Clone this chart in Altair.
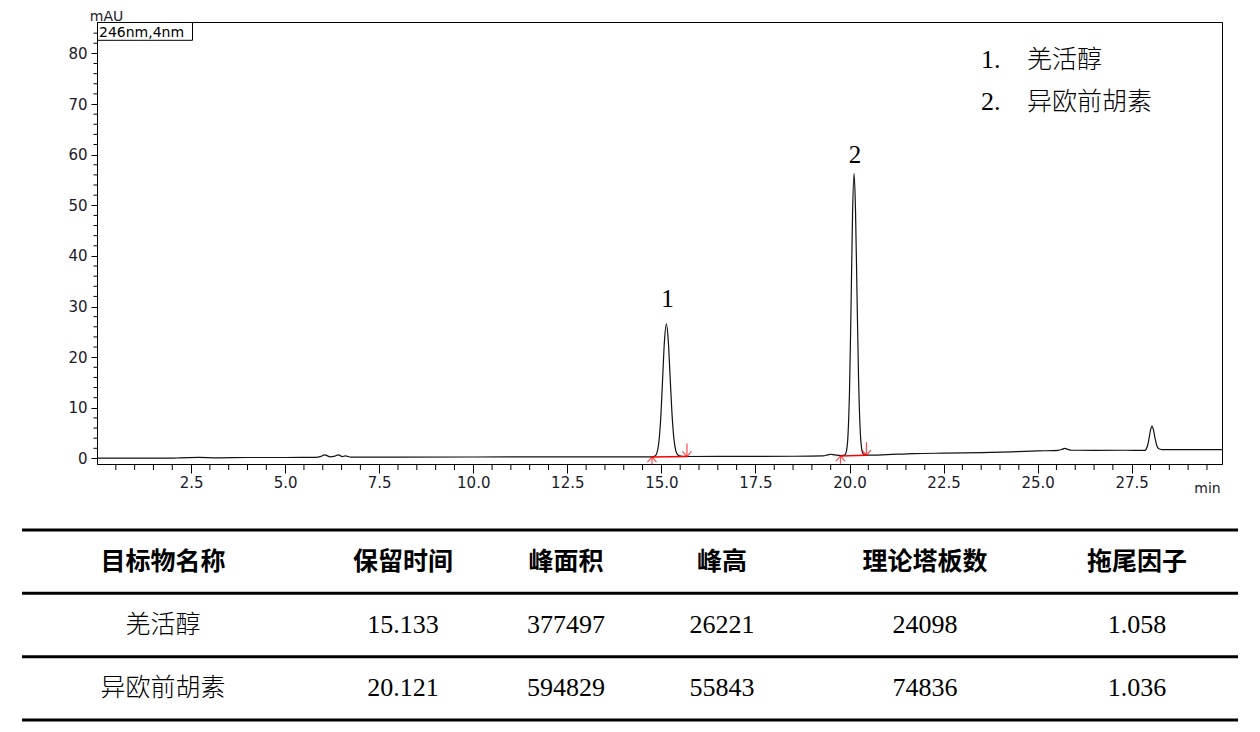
import pandas as pd
import altair as alt

# chromatogram trace (min, mAU)
TIME = [0.0, 1.0, 2.0, 2.2, 2.7, 3.2, 4.0, 5.0, 5.8, 5.95, 6.05, 6.2, 6.32, 6.42, 6.52, 6.6, 6.75,
        8.0, 10.0, 12.0, 13.5, 14.6, 14.75, 14.83, 14.88, 14.93, 14.98, 15.03, 15.08, 15.133,
        15.18, 15.23, 15.28, 15.33, 15.38, 15.43, 15.48, 15.55, 15.68, 17.0, 18.5, 19.3, 19.42,
        19.5, 19.6, 19.8, 19.88, 19.92, 19.96, 20.0, 20.04, 20.08, 20.121, 20.16, 20.2, 20.24,
        20.28, 20.32, 20.36, 20.42, 20.6, 21.0, 21.7, 22.5, 23.5, 24.3, 25.0, 25.55, 25.65,
        25.72, 25.8, 25.9, 26.5, 27.3, 27.85, 27.92, 27.96, 28.0, 28.04, 28.08, 28.12, 28.16,
        28.22, 28.3, 29.0, 29.9]
MAU = [0.05, 0.05, 0.05, 0.12, 0.2, 0.12, 0.18, 0.18, 0.22, 0.4, 0.7, 0.3, 0.45, 0.72, 0.35, 0.5, 0.25,
       0.25, 0.28, 0.3, 0.3, 0.3, 0.32, 0.46, 1.06, 3.0, 7.6, 15.2, 23.0, 26.6,
       23.6, 16.5, 9.1, 4.1, 1.6, 0.75, 0.5, 0.4, 0.38, 0.4, 0.43, 0.5, 0.7,
       0.83, 0.7, 0.56, 0.72, 1.5, 4.6, 13.3, 29.6, 47.9, 56.3, 48.9, 32.1, 16.0,
       6.2, 2.1, 0.9, 0.66, 0.65, 0.75, 0.95, 1.05, 1.15, 1.3, 1.48, 1.6, 1.8,
       2.0, 1.8, 1.62, 1.6, 1.62, 1.6, 2.5, 3.9, 5.6, 6.4, 5.6, 4.0, 2.7,
       1.9, 1.75, 1.75, 1.75]

# integrated peaks
PEAK_NO = ["1", "2"]
PEAK_RT = [15.133, 20.121]
PEAK_LABEL_Y = [31.5, 59.9]
INT_START = [14.75, 19.76]
INT_START_Y = [0.3, 0.5]
INT_END = [15.68, 20.45]
INT_END_Y = [0.36, 0.63]

# axis ticks
X_MAJOR = [2.5, 5.0, 7.5, 10.0, 12.5, 15.0, 17.5, 20.0, 22.5, 25.0, 27.5]
Y_MAJOR = [0, 10, 20, 30, 40, 50, 60, 70, 80]

# results table
COMPOUNDS = ["羌活醇", "异欧前胡素"]
HEADERS = ["目标物名称", "保留时间", "峰面积", "峰高", "理论塔板数", "拖尾因子"]
RET_TIME = [15.133, 20.121]
PEAK_AREA = [377497, 594829]
PEAK_HEIGHT = [26221, 55843]
PLATES = [24098, 74836]
TAILING = [1.058, 1.036]

COL_WIDTHS = [282, 198, 128, 184, 222, 202]

SANS = "DejaVu Sans"
CJK = "Noto Sans CJK SC"
PLOT_W, PLOT_H = 1125, 442

trace = pd.DataFrame({"t": TIME, "v": MAU})
peaks = pd.DataFrame({"no": PEAK_NO, "t": PEAK_RT, "v": PEAK_LABEL_Y,
                      "s": INT_START, "sy": INT_START_Y, "e": INT_END, "ey": INT_END_Y})
x_minor = pd.DataFrame({"t": [i * 0.5 for i in range(1, 60) if (i * 0.5) % 2.5 != 0]})
y_minor = pd.DataFrame({"v": [i for i in range(0, 86, 2) if i % 10 != 0]})
one = pd.DataFrame({"a": [0]})

x_axis = alt.Axis(
    values=X_MAJOR, format=".1f", tickSize=9,
    labelPadding=2, labelFontSize=15, labelFlush=False, labelOverlap=False,
    title="min", titleX=1110, titleY=28, titleAlign="center", titleBaseline="alphabetic",
    titleFontSize=14, titleFontWeight="normal",
)
y_axis = alt.Axis(
    values=Y_MAJOR, tickSize=6,
    labelPadding=4, labelFontSize=15, labelOverlap=False,
    title="mAU", titleAngle=0, titleX=9, titleY=-2, titleAlign="center",
    titleBaseline="alphabetic", titleFontSize=14, titleFontWeight="normal",
)
xs = alt.Scale(domain=[0, 29.9], nice=False, zero=False)
ys = alt.Scale(domain=[-1.1, 86.2], nice=False, zero=False)


def X(field):
    return alt.X(field, type="quantitative", scale=xs, axis=x_axis)


def Y(field):
    return alt.Y(field, type="quantitative", scale=ys, axis=y_axis)


line = alt.Chart(trace).mark_line(color="#111111", strokeWidth=1.2, interpolate="monotone").encode(
    x=X("t"), y=Y("v")
)
x_ticks = alt.Chart(x_minor).mark_rule(color="#000000", strokeWidth=1).encode(
    x=X("t"), y=alt.value(PLOT_H), y2=alt.value(PLOT_H + 6)
)
y_ticks = alt.Chart(y_minor).mark_rule(color="#000000", strokeWidth=1).encode(
    y=Y("v"), x=alt.value(-3.5), x2=alt.value(0)
)
base_rule = alt.Chart(peaks).mark_rule(color="#ff0000", strokeWidth=1.5).encode(
    x=X("s"), x2="e:Q", y=Y("sy"), y2="ey:Q"
)
up_arrow = alt.Chart(peaks).mark_point(
    shape="M0,0L0,1.2M-0.7,0.8L0,0L0.7,0.8", size=169, color="#ff0000", strokeWidth=1.2, filled=False
).encode(x=X("s"), y=Y("sy"))
down_arrow = alt.Chart(peaks).mark_point(
    shape="M0,0L0,-2M-0.7,-0.8L0,0L0.7,-0.8", size=169, color="#ff0000", strokeWidth=1.2, filled=False
).encode(x=X("e"), y=Y("ey"))
peak_text = alt.Chart(peaks).mark_text(
    font="Liberation Serif", fontSize=25, baseline="middle", dx=1, color="#000000"
).encode(x=X("t"), y=Y("v"), text="no:N")

box = alt.Chart(one).mark_rect(filled=False, stroke="#000000", strokeWidth=1).encode(
    x=alt.value(0.5), x2=alt.value(95.5), y=alt.value(0.5), y2=alt.value(18.3)
)
box_text = alt.Chart(one).mark_text(
    font=SANS, fontSize=14, align="left", baseline="alphabetic", color="#000000"
).encode(x=alt.value(2), y=alt.value(15), text=alt.value("246nm,4nm"))

legend = []
for i, name in enumerate(COMPOUNDS):
    legend.append(alt.Chart(one).mark_text(
        font="Liberation Serif", fontSize=26, align="left", baseline="middle", color="#000000"
    ).encode(x=alt.value(884), y=alt.value(38 + 42 * i), text=alt.value(f"{i + 1}.")))
    legend.append(alt.Chart(one).mark_text(
        font=CJK, fontSize=25, fontWeight=300, align="left", baseline="middle", color="#000000"
    ).encode(x=alt.value(930), y=alt.value(38 + 42 * i), text=alt.value(name)))

top = alt.layer(line, x_ticks, y_ticks, base_rule, up_arrow, down_arrow, peak_text,
                box, box_text, *legend).properties(
    width=PLOT_W, height=PLOT_H, view=alt.ViewBackground(stroke="#000000", strokeWidth=1)
)

# table cells
centers = []
acc = 0
for w in COL_WIDTHS:
    centers.append(acc + w / 2)
    acc += w
table_w = acc

head_df = pd.DataFrame({"cx": centers, "row": 0.5, "txt": HEADERS})
name_df = pd.DataFrame({"cx": centers[0], "row": [1.5, 2.5], "txt": COMPOUNDS})
num_rows = []
for r in range(len(COMPOUNDS)):
    vals = [f"{RET_TIME[r]:.3f}", str(PEAK_AREA[r]), str(PEAK_HEIGHT[r]),
            str(PLATES[r]), f"{TAILING[r]:.3f}"]
    for c, v in enumerate(vals):
        num_rows.append({"cx": centers[c + 1], "row": r + 1.5, "txt": v})
num_df = pd.DataFrame(num_rows)
rule_df = pd.DataFrame({"x0": 0, "x1": table_w, "row": [0, 1, 2, 3]})

tx = alt.Scale(domain=[75, table_w], nice=False, zero=False)
ty = alt.Scale(domain=[0, 3], reverse=True, nice=False, zero=False)

t_rules = alt.Chart(rule_df).mark_rule(color="#000000", strokeWidth=3).encode(
    x=alt.X("x0:Q", scale=tx, axis=None), x2="x1:Q", y=alt.Y("row:Q", scale=ty, axis=None)
)
t_head = alt.Chart(head_df).mark_text(font=CJK, fontSize=25, fontWeight="bold", color="#000000").encode(
    x=alt.X("cx:Q", scale=tx, axis=None), y=alt.Y("row:Q", scale=ty, axis=None), text="txt:N"
)
t_name = alt.Chart(name_df).mark_text(font=CJK, fontSize=25, fontWeight=300, color="#000000").encode(
    x=alt.X("cx:Q", scale=tx, axis=None), y=alt.Y("row:Q", scale=ty, axis=None), text="txt:N"
)
t_num = alt.Chart(num_df).mark_text(font="Liberation Serif", fontSize=26, color="#000000").encode(
    x=alt.X("cx:Q", scale=tx, axis=None), y=alt.Y("row:Q", scale=ty, axis=None), text="txt:N"
)
table = alt.layer(t_rules, t_head, t_name, t_num).properties(
    width=table_w - 75, height=190, view=alt.ViewBackground(stroke=None)
)

chart = alt.vconcat(top, table, spacing=32).properties(
    padding={"left": 12, "top": 0, "right": 0, "bottom": 0}, background="#ffffff"
).configure_axis(
    grid=False, domainColor="#000000", tickColor="#000000", labelColor="#1a1a2a",
    titleColor="#1a1a2a", labelFont=SANS, titleFont=SANS, domainWidth=1, tickWidth=1,
)

chart.save("out.html", embed_options={"renderer": "svg", "actions": False})
